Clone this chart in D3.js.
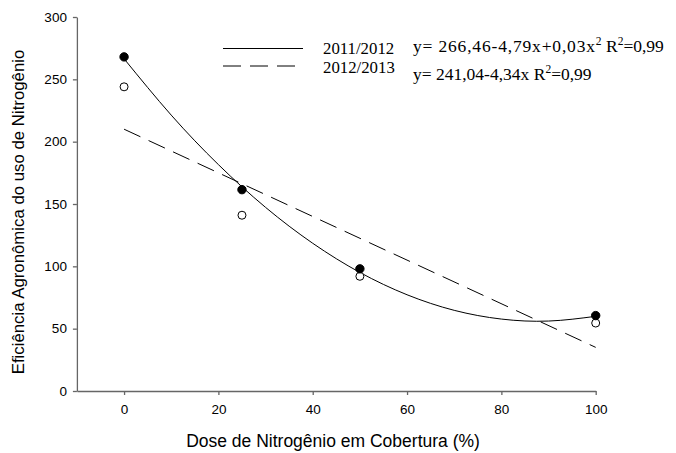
<!DOCTYPE html>
<html>
<head>
<meta charset="utf-8">
<script src="https://cdn.jsdelivr.net/npm/d3@7"></script>
<style>
  body { margin: 0; background: #fff; }
  svg { display: block; }
</style>
</head>
<body>
<svg id="chart" width="676" height="453"></svg>
<script>
// Observed doses (%) and agronomic efficiency per season
const doses = [0, 25, 50, 100];
const season2011 = [268, 161.5, 98, 60.5];
const season2012 = [244, 141, 92, 54.5];

// Fitted curves, sampled along the dose axis
const fitDoses2011 = [0, 10, 20, 30, 40, 50, 60, 70, 80, 90, 100];
const fitValues2011 = [266.5, 221.3, 181.6, 147.3, 118.5, 95.1, 77.2, 64.7, 57.7, 56.1, 59.9];
const fitDoses2012 = [0, 100];
const fitValues2012 = [210, 35];

const xTicks = [0, 20, 40, 60, 80, 100];
const yTicks = [0, 50, 100, 150, 200, 250, 300];

const legendLabels = ["2011/2012", "2012/2013"];
const equations = ["y= 266,46-4,79x+0,03x", "y= 241,04-4,34x R"];

const svg = d3.select("#chart");
const axisColor = "#666";
const sans = "Arial, 'Liberation Sans', sans-serif";
const serif = "'Times New Roman', 'Liberation Serif', serif";

const x = d3.scaleLinear().domain([-10, 100]).range([76.9, 595.7]);
const y = d3.scaleLinear().domain([0, 300]).range([391, 17]);

// Axes
const xAxis = svg.append("g")
  .attr("transform", `translate(0,${y(0)})`)
  .call(d3.axisBottom(x).tickValues(xTicks).tickSize(4).tickPadding(9).tickSizeOuter(0));
const yAxis = svg.append("g")
  .attr("transform", `translate(${x(-10)},0)`)
  .call(d3.axisLeft(y).tickValues(yTicks).tickSize(4).tickPadding(6).tickSizeOuter(0));

[xAxis, yAxis].forEach(g => {
  g.select(".domain").attr("stroke", axisColor).attr("stroke-width", 1.3);
  g.selectAll(".tick line").attr("stroke", axisColor).attr("stroke-width", 1.3);
  g.selectAll(".tick text")
    .attr("fill", "#000")
    .style("font-family", sans)
    .style("font-size", "13.5px");
});

// Axis titles
svg.append("text")
  .attr("x", 333).attr("y", 447)
  .attr("text-anchor", "middle")
  .style("font-family", sans)
  .style("font-size", "17.5px")
  .text("Dose de Nitrogênio em Cobertura (%)");

svg.append("text")
  .attr("transform", "translate(24,212) rotate(-90)")
  .attr("text-anchor", "middle")
  .style("font-family", sans)
  .style("font-size", "16.8px")
  .text("Eficiência Agronômica do uso de Nitrogênio");

// Fitted curves
svg.append("path")
  .datum(d3.zip(fitDoses2011, fitValues2011))
  .attr("d", d3.line().x(d => x(d[0])).y(d => y(d[1])).curve(d3.curveNatural))
  .attr("fill", "none").attr("stroke", "#000").attr("stroke-width", 1);
svg.append("path")
  .datum(d3.zip(fitDoses2012, fitValues2012))
  .attr("d", d3.line().x(d => x(d[0])).y(d => y(d[1])))
  .attr("fill", "none").attr("stroke", "#000").attr("stroke-width", 1)
  .attr("stroke-dasharray", "18,9");

// Observed points
svg.append("g").selectAll("circle")
  .data(d3.zip(doses, season2012))
  .join("circle")
  .attr("cx", d => x(d[0])).attr("cy", d => y(d[1])).attr("r", 4)
  .attr("fill", "#fff").attr("stroke", "#000").attr("stroke-width", 1);
svg.append("g").selectAll("circle")
  .data(d3.zip(doses, season2011))
  .join("circle")
  .attr("cx", d => x(d[0])).attr("cy", d => y(d[1])).attr("r", 4.2)
  .attr("fill", "#000").attr("stroke", "#000").attr("stroke-width", 1);

// Legend
const legendY = [48.5, 66];
const legendBaseline = [53.5, 72.5];
legendY.forEach((ly, i) => {
  svg.append("line")
    .attr("x1", 223).attr("x2", 303).attr("y1", ly).attr("y2", ly)
    .attr("stroke", "#000").attr("stroke-width", 1)
    .attr("stroke-dasharray", i === 1 ? "18,9" : null);
  svg.append("text")
    .attr("x", 323).attr("y", legendBaseline[i])
    .style("font-family", serif).style("font-size", "16.8px")
    .text(legendLabels[i]);
});

// Regression equations
const eq1 = svg.append("text").attr("x", 413).attr("y", 51.5)
  .style("font-family", serif).style("font-size", "17.5px");
eq1.append("tspan").attr("textLength", 182).attr("lengthAdjust", "spacing").text(equations[0]);
eq1.append("tspan").attr("dy", -7).style("font-size", "11.5px").text("2");
eq1.append("tspan").attr("dy", 7).text(" R");
eq1.append("tspan").attr("dy", -7).style("font-size", "11.5px").text("2");
eq1.append("tspan").attr("dy", 7).text("=0,99");

const eq2 = svg.append("text").attr("x", 413).attr("y", 80)
  .style("font-family", serif).style("font-size", "17.5px");
eq2.append("tspan").text(equations[1]);
eq2.append("tspan").attr("dy", -7).style("font-size", "11.5px").text("2");
eq2.append("tspan").attr("dy", 7).text("=0,99");
</script>
</body>
</html>
